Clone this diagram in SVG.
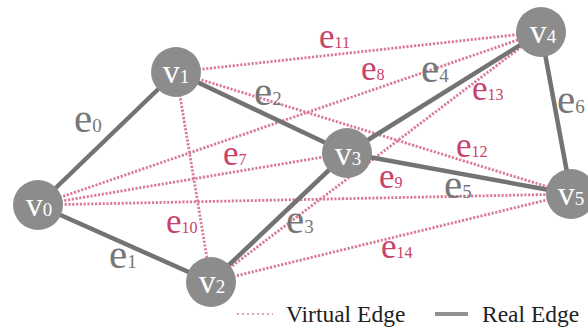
<svg xmlns="http://www.w3.org/2000/svg" width="588" height="329" viewBox="0 0 588 329">
<style>
.real{stroke:#737373;stroke-width:4.5;stroke-linecap:round;fill:none}
.virt{stroke:#d97b96;stroke-width:2.8;stroke-dasharray:2.2 1.6;fill:none}
.node{fill:#8c8c8c}
.nl{font-family:"Liberation Serif",serif;font-size:34px;fill:#ffffff;text-anchor:middle}
.nl .s{font-size:19px}
.ge{font-family:"Liberation Serif",serif;font-size:41px;fill:#767676}
.ge .s{font-size:19px}
.pe{font-family:"Liberation Serif",serif;font-size:35px;fill:#c8426a}
.pe .s{font-size:16px}
.leg{font-family:"Liberation Serif",serif;font-size:23.5px;fill:#1e1e1e}
</style>
<rect width="588" height="329" fill="#ffffff"/>
<g id="connectors">
<g id="virtual-edges">
<line class="virt" x1="38" y1="205" x2="347" y2="153"/>
<line class="virt" x1="38" y1="205" x2="541" y2="32"/>
<line class="virt" x1="38" y1="205" x2="571" y2="194"/>
<line class="virt" x1="176" y1="72" x2="211" y2="282"/>
<line class="virt" x1="176" y1="72" x2="541" y2="32"/>
<line class="virt" x1="176" y1="72" x2="571" y2="194"/>
<line class="virt" x1="211" y1="282" x2="541" y2="32"/>
<line class="virt" x1="211" y1="282" x2="571" y2="194"/>
</g>
<g id="real-edges">
<line class="real" x1="38" y1="205" x2="176" y2="72"/>
<line class="real" x1="38" y1="205" x2="211" y2="282"/>
<line class="real" x1="176" y1="72" x2="347" y2="153"/>
<line class="real" x1="211" y1="282" x2="347" y2="153"/>
<line class="real" x1="347" y1="153" x2="541" y2="32"/>
<line class="real" x1="347" y1="153" x2="571" y2="194"/>
<line class="real" x1="541" y1="32" x2="571" y2="194"/>
</g>
<g id="edge-labels">
<text class="ge" x="74" y="132">e<tspan class="s">0</tspan></text>
<text class="ge" x="109" y="268">e<tspan class="s">1</tspan></text>
<text class="ge" x="254" y="105">e<tspan class="s">2</tspan></text>
<text class="ge" x="286" y="233">e<tspan class="s">3</tspan></text>
<text class="ge" x="421" y="82">e<tspan class="s">4</tspan></text>
<text class="ge" x="444" y="198">e<tspan class="s">5</tspan></text>
<text class="ge" x="557" y="113">e<tspan class="s">6</tspan></text>
<text class="pe" x="223" y="165">e<tspan class="s">7</tspan></text>
<text class="pe" x="361" y="80">e<tspan class="s">8</tspan></text>
<text class="pe" x="379" y="188">e<tspan class="s">9</tspan></text>
<text class="pe" x="166" y="233">e<tspan class="s">10</tspan></text>
<text class="pe" x="319" y="48">e<tspan class="s">11</tspan></text>
<text class="pe" x="456" y="157">e<tspan class="s">12</tspan></text>
<text class="pe" x="472" y="100">e<tspan class="s">13</tspan></text>
<text class="pe" x="381" y="258">e<tspan class="s">14</tspan></text>
</g>
</g>
<g id="v0"><circle class="node" cx="38" cy="205" r="25"/><text class="nl" x="39" y="216">v<tspan class="s">0</tspan></text></g>
<g id="v1"><circle class="node" cx="176" cy="72" r="25"/><text class="nl" x="176" y="83">v<tspan class="s">1</tspan></text></g>
<g id="v2"><circle class="node" cx="211" cy="282" r="25"/><text class="nl" x="212" y="293">v<tspan class="s">2</tspan></text></g>
<g id="v3"><circle class="node" cx="347" cy="153" r="25"/><text class="nl" x="348" y="165">v<tspan class="s">3</tspan></text></g>
<g id="v4"><circle class="node" cx="541" cy="32" r="25"/><text class="nl" x="543" y="43">v<tspan class="s">4</tspan></text></g>
<g id="v5"><circle class="node" cx="571" cy="194" r="25"/><text class="nl" x="571" y="205">v<tspan class="s">5</tspan></text></g>
<g id="legend">
<line x1="237" y1="314" x2="273" y2="314" stroke="#e3a3b3" stroke-width="2" stroke-dasharray="2 3"/>
<text class="leg" x="286" y="322">Virtual Edge</text>
<line x1="435" y1="314" x2="468" y2="314" stroke="#929292" stroke-width="4"/>
<text class="leg" x="482" y="322">Real Edge</text>
</g>
</svg>
